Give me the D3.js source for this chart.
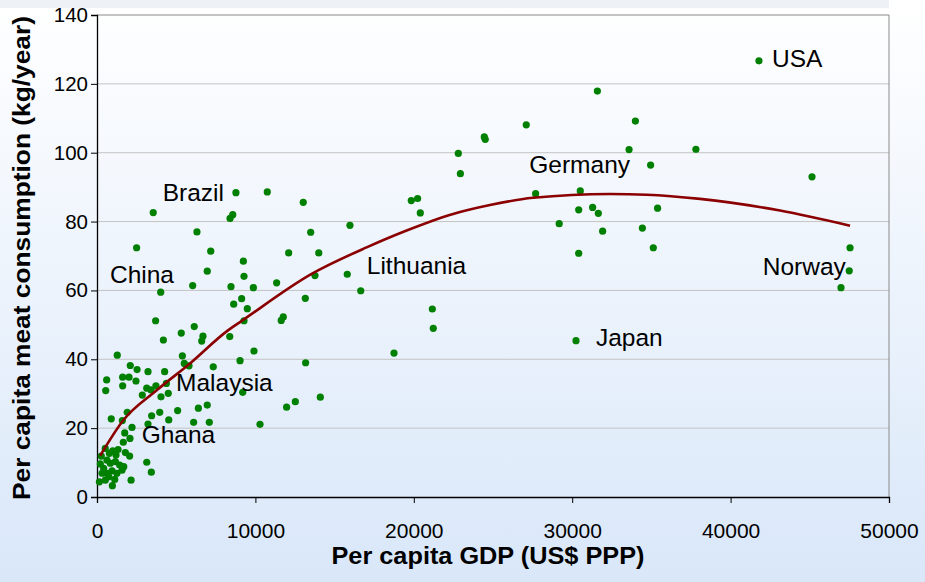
<!DOCTYPE html>
<html lang="en">
<head>
<meta charset="UTF-8">
<title>Meat consumption vs GDP</title>
<script src="https://d3js.org/d3.v7.min.js"></script>
<style>
  body { margin: 0; }
  text { font-family: "Liberation Sans", Arial, sans-serif; }
</style>
</head>
<body>
<svg width="925" height="582"></svg>
<script>
// [GDP per capita, meat kg/year]
const countries = [
  [41790,126.7],[37810,101.0],[45140,93.0],[47540,72.4],[47490,65.7],[46970,60.8],
  [31590,117.9],[33990,109.2],[27100,108.1],[24450,104.6],[24510,103.9],[22810,99.8],[22940,93.9],
  [33590,100.9],[34950,96.4],[19840,86.1],[20240,86.7],[20410,82.5],[27690,88.1],[30510,88.9],
  [30410,83.4],[31290,84.1],[31650,82.4],[35390,83.9],[29180,79.4],[31920,77.2],[34430,78.1],
  [35120,72.4],[30410,70.8],[21170,54.6],[21230,49.0],[30240,45.4],
  [10750,88.6],[13020,85.6],[15970,78.9],[13490,76.9],[12100,70.9],[14000,70.9],[9240,68.5],
  [9280,64.1],[9870,60.8],[11340,62.2],[13760,64.3],[15800,64.7],[16650,59.9],[9130,57.6],
  [9490,54.7],[9280,51.2],[11760,52.3],[11630,51.3],[13150,57.7],[9910,42.4],[18750,41.8],
  [13170,39.0],[9030,39.6],[9200,30.4],[11970,26.1],[12520,27.7],[14100,29.0],
  [8770,88.4],[3550,82.6],[8570,82.0],[8400,80.9],[6310,77.0],[2500,72.4],[7180,71.4],
  [6960,65.6],[6040,61.4],[4020,59.5],[8460,61.1],[8630,56.0],[3700,51.2],[6140,49.5],
  [5320,47.6],[6690,46.7],[8380,46.6],[4190,45.6],
  [6610,45.3],[1280,41.2],[5390,41.0],[5510,38.8],[5810,38.1],[2100,38.2],[2530,37.0],
  [3220,36.4],[4270,36.4],[1620,34.8],[2020,34.8],[2460,33.7],[610,34.0],[550,30.9],
  [1620,32.3],[3140,31.6],[3410,31.1],[3720,32.3],[7340,37.8],[4500,30.1],[2860,29.6],
  [4040,29.1],[4380,33.0],[5090,25.1],[6400,25.8],[6960,26.7],[3960,24.6],[3450,23.6],
  [1910,24.6],[900,22.7],[10290,21.1],[6100,21.7],[7090,21.7],[4530,22.4],[3220,21.2],
  [2210,20.2],[1600,22.2],[1750,18.6],[2080,17.0],[1660,15.9],[3140,10.1],[3430,7.2],
  [2150,4.9],[970,3.3],
  [1330,13.8],[780,12.7],[990,13.4],[1200,12.2],[1790,12.9],[2060,11.9],[630,10.7],
  [840,9.8],[1160,10.3],[210,9.6],[420,8.3],[630,6.9],[950,7.6],[1260,6.9],[1580,7.8],
  [1430,9.3],[1690,8.8],[320,6.9],[150,4.4],[520,4.9],[740,5.9],[1120,5.1],[270,11.9],
  [520,14.1]
];

// trend line
const trend = [
  [200,12],[1660,22.3],[3770,31],[5870,38.8],[8270,48.4],[9030,50.8],[13550,64.8],
  [17020,72.5],[19550,77.4],[22480,82.2],[24810,84.8],[27530,86.9],[32390,88],
  [34700,87.8],[38070,86.6],[43120,83.2],[47540,78.8]
];

// country names and where their text sits (data coords, left/baseline)
const labels = [
  ["USA", 42610, 124.8], ["Germany", 27290, 94.2], ["Brazil", 4150, 86.1],
  ["China", 820, 62.1], ["Lithuania", 17030, 64.8], ["Norway", 42030, 64.5],
  ["Japan", 31500, 43.9], ["Malaysia", 4990, 30.8], ["Ghana", 2820, 15.6]
];

const xTicks = [0, 10000, 20000, 30000, 40000, 50000];
const yTicks = [0, 20, 40, 60, 80, 100, 120, 140];

const margin = {top: 15, right: 36, bottom: 85, left: 97},
      width = 925 - margin.left - margin.right,
      height = 582 - margin.top - margin.bottom;

const svg = d3.select("svg");

// background
const defs = svg.append("defs");
const grad = defs.append("linearGradient")
    .attr("id", "bg").attr("x1", 0).attr("y1", 0).attr("x2", 0).attr("y2", 1);
grad.append("stop").attr("offset", "0%").attr("stop-color", "#ffffff");
grad.append("stop").attr("offset", "100%").attr("stop-color", "#d9e7f9");
svg.append("rect").attr("width", 925).attr("height", 582).attr("fill", "url(#bg)");
svg.append("rect").attr("width", 889).attr("height", 8).attr("fill", "#eef1f5");

const g = svg.append("g").attr("transform", `translate(${margin.left},${margin.top})`);

const x = d3.scaleLinear().domain([0, 50000]).range([0, width]);
const y = d3.scaleLinear().domain([0, 140]).range([height, 0]);

// gridlines
g.append("g")
    .selectAll("line")
    .data(yTicks.filter(t => t > 0))
    .join("line")
    .attr("x1", 0).attr("x2", width)
    .attr("y1", d => y(d)).attr("y2", d => y(d))
    .attr("stroke", d => d === 140 ? "#8a8a8a" : "#c4c4c4")
    .attr("stroke-width", 1);

// right frame
g.append("line")
    .attr("x1", width).attr("x2", width).attr("y1", 0).attr("y2", height)
    .attr("stroke", "#8a8a8a");

// axes
const xAxis = g.append("g")
    .attr("transform", `translate(0,${height})`)
    .call(d3.axisBottom(x).tickValues(xTicks).tickFormat(d3.format("d")).tickSizeOuter(0).tickSize(6).tickPadding(20));
const yAxis = g.append("g")
    .call(d3.axisLeft(y).tickValues(yTicks).tickSizeOuter(0).tickSize(6).tickPadding(3));

[xAxis, yAxis].forEach(a => {
  a.select(".domain").attr("stroke", "#000").attr("stroke-width", 1.3);
  a.selectAll(".tick line").attr("stroke", "#000");
  a.selectAll("text").attr("fill", "#000").style("font-family", "Liberation Sans, Arial, sans-serif");
});
xAxis.selectAll("text").style("font-size", "21px");
yAxis.selectAll("text").style("font-size", "20.5px");

// points
g.append("g")
    .selectAll("circle")
    .data(countries)
    .join("circle")
    .attr("cx", d => x(d[0]))
    .attr("cy", d => y(d[1]))
    .attr("r", 3.6)
    .attr("fill", "#008000");

// trend line
g.append("path")
    .datum(trend)
    .attr("d", d3.line().x(d => x(d[0])).y(d => y(d[1])).curve(d3.curveMonotoneX))
    .attr("fill", "none")
    .attr("stroke", "#8b0000")
    .attr("stroke-width", 2.6);

// country labels
g.append("g")
    .selectAll("text")
    .data(labels)
    .join("text")
    .attr("x", d => x(d[1]))
    .attr("y", d => y(d[2]))
    .style("font-size", "24.5px")
    .attr("fill", "#000")
    .text(d => d[0]);

// axis titles
svg.append("text")
    .attr("x", 488).attr("y", 564)
    .attr("text-anchor", "middle")
    .attr("textLength", 313).attr("lengthAdjust", "spacingAndGlyphs")
    .style("font-size", "23px").style("font-weight", "bold")
    .text("Per capita GDP (US$ PPP)");

svg.append("text")
    .attr("transform", "translate(30,258) rotate(-90)")
    .attr("text-anchor", "middle")
    .attr("textLength", 484).attr("lengthAdjust", "spacingAndGlyphs")
    .style("font-size", "23.5px").style("font-weight", "bold")
    .text("Per capita meat consumption (kg/year)");
</script>
</body>
</html>
